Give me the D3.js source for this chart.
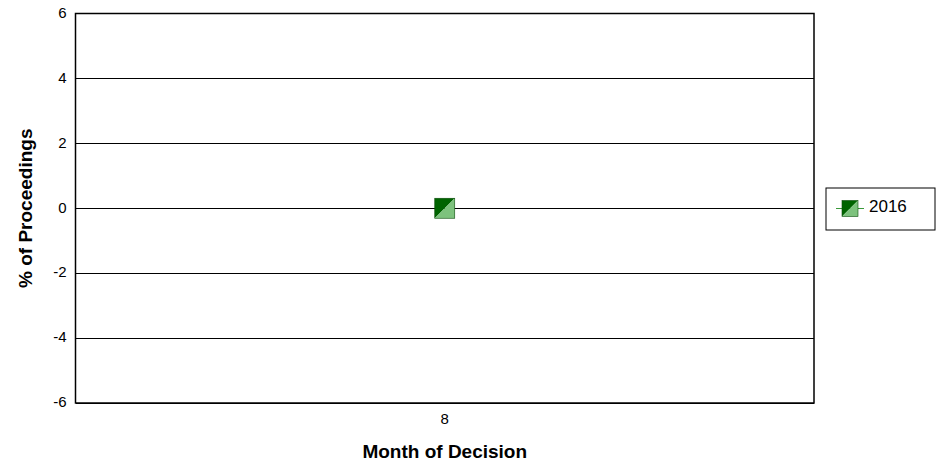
<!DOCTYPE html>
<html>
<head>
<meta charset="utf-8">
<script src="https://cdn.jsdelivr.net/npm/d3@7"></script>
<style>
body { margin: 0; background: #fff; }
text { font-family: Arial, "Liberation Sans", sans-serif; }
.tick text { font-size: 15px; fill: #000; }
</style>
</head>
<body>
<div id="chart"></div>
<script>
const months = ['8']
const series2016 = [0]
const yTicks = [-6, -4, -2, 0, 2, 4, 6]
const seriesName = '2016'

const svg = d3.select('#chart')
	.append('svg')
	.attr('width', 937)
	.attr('height', 464)

const plotL = 75.5, plotR = 814, plotT = 13.5, plotB = 403

const x = d3.scaleBand()
	.domain(months)
	.range([plotL, plotR])

const y = d3.scaleLinear()
	.domain([-6, 6])
	.range([plotB, plotT])

// gridlines
svg.append('g')
	.selectAll('line')
	.data(yTicks)
	.enter()
	.append('line')
	.attr('x1', plotL)
	.attr('x2', plotR)
	.attr('y1', d => y(d))
	.attr('y2', d => y(d))
	.attr('stroke', '#000')
	.attr('stroke-width', 1)
	.attr('shape-rendering', 'crispEdges')

// frame
svg.append('rect')
	.attr('x', plotL)
	.attr('y', plotT)
	.attr('width', plotR - plotL)
	.attr('height', plotB - plotT)
	.attr('fill', 'none')
	.attr('stroke', '#000')
	.attr('stroke-width', 1.5)

const yAxis = svg.append('g')
	.attr('transform', `translate(${plotL}, 0)`)
	.call(d3.axisLeft(y).tickValues(yTicks).tickFormat(d => String(d)).tickSize(0).tickPadding(9))
yAxis.select('.domain').remove()
yAxis.selectAll('text').attr('dy', '0.25em')

const xAxis = svg.append('g')
	.attr('transform', `translate(0, ${plotB})`)
	.call(d3.axisBottom(x).tickSize(0).tickPadding(10))
xAxis.select('.domain').remove()

svg.append('text')
	.attr('transform', `translate(32, ${(plotT + plotB) / 2}) rotate(-90)`)
	.attr('text-anchor', 'middle')
	.attr('font-size', 19)
	.attr('font-weight', 'bold')
	.text('% of Proceedings')

svg.append('text')
	.attr('x', (plotL + plotR) / 2)
	.attr('y', 458)
	.attr('text-anchor', 'middle')
	.attr('font-size', 19)
	.attr('font-weight', 'bold')
	.text('Month of Decision')

function marker(g, cx, cy, s) {
	g.append('path')
		.attr('d', `M${cx - s / 2},${cy - s / 2}H${cx + s / 2}L${cx - s / 2},${cy + s / 2}Z`)
		.attr('fill', '#006400')
	g.append('path')
		.attr('d', `M${cx + s / 2},${cy - s / 2}V${cy + s / 2}H${cx - s / 2}Z`)
		.attr('fill', '#7dc27d')
	g.append('rect')
		.attr('x', cx - s / 2)
		.attr('y', cy - s / 2)
		.attr('width', s)
		.attr('height', s)
		.attr('fill', 'none')
		.attr('stroke', '#0a4d0a')
		.attr('stroke-width', 0.6)
}

const pts = svg.append('g')
series2016.forEach((v, i) => {
	marker(pts, x(months[i]) + x.bandwidth() / 2, y(v), 20)
})

// legend
const lg = svg.append('g')
lg.append('rect')
	.attr('x', 826)
	.attr('y', 188)
	.attr('width', 109)
	.attr('height', 42)
	.attr('fill', '#fff')
	.attr('stroke', '#000')
	.attr('stroke-width', 1)
lg.append('line')
	.attr('x1', 836)
	.attr('x2', 864)
	.attr('y1', 208.5)
	.attr('y2', 208.5)
	.attr('stroke', '#3a9a3a')
	.attr('stroke-width', 1)
marker(lg, 850, 208.5, 16)
lg.append('text')
	.attr('x', 869)
	.attr('y', 212)
	.attr('font-size', 17)
	.text(seriesName)
</script>
</body>
</html>
